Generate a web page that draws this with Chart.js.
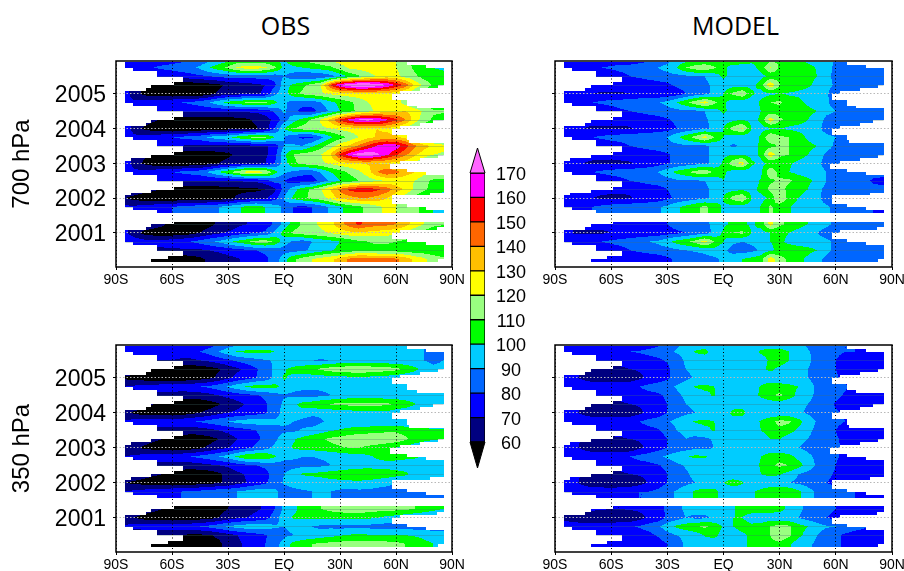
<!DOCTYPE html>
<html>
<head>
<meta charset="utf-8">
<title>OBS and MODEL</title>
<script src="https://cdn.jsdelivr.net/npm/chart.js@4"></script>
<style>
html,body{margin:0;padding:0;background:#fff;}
#page{position:relative;width:904px;height:571px;overflow:hidden;}
canvas{position:absolute;}
.head{position:absolute;top:8px;font:25px "Open Sans",sans-serif;color:#000;text-align:center;}
</style>
</head>
<body>
<div id="page">
<div class="head" style="left:116px;width:339px">OBS</div>
<div class="head" style="left:555px;width:361px">MODEL</div>
</div>
<script>
// latitudes of the grid columns, seasons of the grid rows (2006.0 down to 2000.25)
const lats = [-85,-80,-75,-70,-65,-60,-55,-50,-45,-40,-35,-30,-25,-20,-15,-10,-5,0,5,10,15,20,25,30,35,40,45,50,55,60,65,70,75,80,85];
const seasons = [2006,2005.75,2005.5,2005.25,2005,2004.75,2004.5,2004.25,2004,2003.75,2003.5,2003.25,2003,2002.75,2002.5,2002.25,2002,2001.75,2001.5,2001.25,2001,2000.75,2000.5,2000.25];
const yearTicks = [2001,2002,2003,2004,2005];
const latTicks = [-90,-60,-30,0,30,60,90];
const latNames = ['90S','60S','30S','EQ','30N','60N','90N'];
const levels = [60,70,80,90,100,110,120,130,140,150,160,170];
const levelColors = ['#000000','#000080','#0000ff','#0066ff','#00ccff','#00ff00','#99ff80','#ffff00','#ffc000','#ff6600','#ff0000','#ff00ff','#ff66ff'];

// edge of the data per month, from the top of the plot (null = missing months)
const dataLeft = [-85,-85,-81,-68,-68,-54,-54,-59,-71,-74,-85,-85,-85,-85,-81,-68,-68,-54,-54,-59,-71,-74,-85,-85,-85,-85,-81,-68,-68,-54,-54,-59,-71,-82,-85,-85,-85,-85,-81,-68,-68,-54,-54,-59,-71,-82,-85,-85,-85,-85,-81,-68,null,null,null,-59,-71,-74,-85,-85,-85,-85,-81,-68,-68,-54,-54,-62,-71];
const dataRight = [66,76,85.5,85.5,85.5,85.5,85.5,85.5,82.5,73,62,58,58,66,66,71,85.5,85.5,85.5,85.5,80,73,62,58,58,66,66,67,85.5,85.5,85.5,85.5,82.5,73,62,57,57,66,76,85.5,85.5,85.5,85.5,85.5,85.5,78,58,58,58,66,76,85.5,null,null,null,85.5,85.5,82,62,58,58,66,76,85.5,85.5,85.5,85.5,85.5,82.5];
const seamRows = [2,3,6,7,10,11,14,15,17,19,21,22];

const obs700 = [
[78,76,75,74,74,74,76,79,82,85,90,95,98,98,98,97,96,100,108,112,116,120,124,127,128,130,130,128,125,120,115,105,100,95,95],
[78,78,78,80,82,84,86,88,92,100,106,112,122,125,125,122,112,96,98,100,103,105,108,115,122,124,126,126,124,120,115,108,104,100,98],
[72,72,72,72,72,72,74,76,78,80,82,84,84,84,84,84,84,90,84,80,80,82,86,94,102,108,115,121,124,123,116,112,106,104,104],
[70,66,62,58,55,54,53,53,54,56,58,62,64,66,68,70,78,96,102,108,114,121,150,170,178,184,182,178,170,158,146,128,117,108,102],
[75,64,57,54,53,52,52,52,52,56,62,65,66,67,68,72,88,96,106,112,115,118,122,124,126,127,127,127,126,124,118,110,104,100,98],
[72,72,74,76,78,79,80,82,85,90,97,103,107,111,114,112,103,92,86,84,85,90,97,103,108,113,120,123,125,124,116,108,104,100,98],
[70,70,70,70,70,70,72,72,72,72,72,72,72,72,72,74,82,92,84,76,76,84,92,100,106,113,117,122,125,128,130,126,118,112,112],
[70,68,66,62,58,55,54,53,53,53,54,55,56,58,62,66,72,85,96,104,112,122,134,152,164,172,174,170,162,152,140,125,115,108,104],
[76,66,58,54,53,52,52,52,52,53,54,55,56,57,59,64,80,100,110,114,116,118,120,123,125,127,129,130,128,124,118,110,104,100,98],
[72,72,74,76,78,80,82,84,86,92,96,99,104,110,113,112,100,90,82,78,78,88,98,106,112,120,127,131,133,132,126,115,105,100,98],
[70,70,70,70,70,70,70,68,68,68,68,68,68,68,68,68,74,90,92,90,98,106,116,125,132,142,152,162,168,166,155,142,134,128,124],
[72,68,62,60,56,54,53,53,54,55,56,58,62,64,66,68,76,98,110,114,116,120,130,152,166,176,178,172,162,152,142,132,125,120,118],
[76,66,58,54,53,52,52,52,52,56,60,63,66,68,68,70,80,95,108,113,116,118,122,126,128,130,131,130,128,126,124,118,110,104,100],
[72,72,74,76,78,80,82,84,86,92,100,108,116,124,124,122,104,92,88,84,84,92,100,106,112,118,126,140,148,143,136,130,124,120,118],
[70,70,70,70,70,70,70,70,70,70,70,70,70,72,72,76,84,80,74,74,74,84,92,100,104,110,115,118,121,124,122,120,113,108,108],
[70,68,64,62,58,56,54,54,54,54,55,56,57,58,58,60,68,84,96,106,112,120,131,142,152,156,156,152,146,135,128,118,112,106,102],
[60,56,54,53,52,52,52,52,52,52,53,56,62,64,66,68,76,90,102,108,112,116,124,133,136,139,139,136,130,122,114,106,102,98,96],
[72,72,74,76,78,80,82,84,86,88,90,94,98,103,105,100,94,88,80,78,80,86,92,98,104,108,112,118,122,120,116,112,108,100,96],
null,
[72,70,68,66,62,55,54,53,54,57,62,64,68,70,72,74,82,94,104,112,118,122,127,136,145,152,146,144,143,140,134,126,120,114,112],
[72,64,57,54,53,53,54,56,60,65,68,71,74,77,79,82,92,104,112,115,117,118,121,124,127,128,127,125,124,122,118,112,106,100,96],
[76,76,74,74,74,76,78,80,84,88,92,97,103,108,114,115,108,94,88,86,90,94,97,100,104,108,110,112,112,110,108,105,104,103,102],
[68,68,68,68,68,68,68,68,68,70,72,74,76,78,80,82,85,86,86,88,92,96,99,102,104,106,106,106,105,105,104,103,103,102,102],
[62,60,58,56,54,53,54,55,58,62,64,67,69,72,75,78,84,96,108,114,120,124,128,134,142,147,146,144,143,142,136,128,122,116,112]
];
const model700 = [
[76,74,72,71,71,71,71,72,74,76,80,85,92,94,95,97,98,104,112,110,104,100,104,110,105,98,96,94,92,90,86,84,84,84,84],
[76,76,78,78,80,82,84,84,86,88,90,94,100,110,116,118,112,104,94,94,96,104,121,108,106,110,104,99,93,88,85,84,82,82,82],
[72,72,72,72,72,72,76,80,82,84,85,86,87,88,88,90,94,102,96,93,92,97,102,106,106,105,103,100,93,87,84,83,82,82,82],
[72,72,72,72,72,72,72,72,72,74,76,78,82,84,86,88,92,95,96,96,97,104,129,110,106,104,102,97,92,89,85,84,83,82,82],
[80,73,71,70,69.5,69.5,69.5,70,72,72,72,73,75,80,84,87,92,100,112,119,102,96,98,100,99,98,96,94,91,86,84,84,84,84,84],
[74,76,78,80,82,84,85,86,87,88,89,93,100,108,116,125,113,102,95,93,93,102,110,112,104,103,98,94,91,87,85,84,84,84,84],
[72,72,72,72,72,74,78,80,82,84,85,86,87,88,88,90,95,102,96,94,94,100,104,106,105,104,103,100,92,90,88,85,83,82,82],
[72,72,72,72,72,72,72,72,72,74,76,79,82,85,87,89,92,96,97,100,96,102,126,112,106,104,100,94,88,86,84,83,83,82,82],
[78,72,70,69,69,69,69,69.5,71,72,74,76,80,82,85,88,92,100,114,122,100,96,98,100,98,97,96,92,87,84,83,82,82,82,82],
[74,76,78,80,82,84,85,86,87,88,89,90,98,106,114,124,110,100,96,93,93,102,120,112,110,105,98,94,92,90,86,84,84,84,84],
[72,72,72,72,72,74,76,80,82,84,85,86,87,88,88,88,92,94,88,92,95,102,106,112,110,105,103,100,94,88,84,83,82,82,82],
[72,72,72,72,72,72,72,72,73,74,76,79,82,85,87,88,92,97,100,100,96,102,127,112,110,104,100,95,88,85,84,83,82,82,82],
[78,72,70,69,69,69,69,69.5,71,73,76,79,82,84,86,88,92,102,116,125,102,97,102,104,101,98,96,92,87,84,83,83,82,82,82],
[74,76,78,80,82,84,85,86,87,88,90,96,103,108,114,117,108,102,96,93,94,98,118,106,100,97,96,93,90,86,84,83,83,83,83],
[72,72,72,72,72,74,77,80,82,84,85,86,88,89,89,90,94,100,94,93,95,101,108,112,112,106,102,98,90,85,83,82,82,79,78],
[72,72,72,72,72,71,71,71,72,74,76,80,83,86,87,88,92,95,97,98,96,103,113,116,106,103,100,93,87,84,83,83,82,82,82],
[76,72,71,70,69,69,69,69.5,71,72,74,78,82,84,86,88,92,101,114,120,100,96,102,121,106,100,96,92,87,84,83,83,83,83,83],
[74,76,78,80,82,84,85,86,87,88,89,92,98,103,108,112,106,98,96,96,94,101,112,104,101,96,94,92,91,88,85,84,83,80,78],
null,
[72,72,72,72,72,72,72,72,72,74,76,80,84,86,86,88,92,98,102,102,98,104,124,112,108,104,100,95,92,88,84,84,83,82,80],
[76,69,69,69,69,70,70,71,72,73,74,76,78,80,84,86,92,102,110,112,100,96,100,102,100,96,94,90,86,84,82,82,82,82,82],
[76,78,78,80,80,82,84,86,88,90,92,97,104,108,114,124,110,100,92,90,92,94,100,102,98,96,95,94,92,88,84,83,83,82,82],
[74,74,74,74,74,74,76,80,82,84,85,86,88,90,91,92,96,92,86,85,87,92,98,103,105,104,103,100,92,88,84,83,83,82,80],
[72,72,72,71,71,71,71,71,72,73,75,78,82,84,86,87,88,92,96,100,103,106,126,114,108,103,98,92,88,85,84,83,83,83,83]
];
const obs350 = [
[74,73,72,71,70,70,70,71,72,74,78,82,86,88,90,90,92,96,99,101,102,102,102,102,102,102,102,102,100,98,95,92,90,88,88],
[74,74,74,75,76,76,76,77,80,84,90,96,101,102,103,103,100,95,95,95,95,96,97,96,95,95,94,93,92,92,92,92,90,88,88],
[70,70,70,70,70,70,68,68,70,72,75,78,82,85,87,89,91,92,92,91,90,89,90,92,93,93,93,93,92,92,92,91,90,88,90],
[70,66,62,58,56,54,53,53,54,56,59,64,68,73,79,84,92,99,103,106,108,112,115,117,118,119,118,116,115,113,108,103,96,92,92],
[58,56,54,53,52,52,52,53,55,58,62,68,73,76,80,84,92,101,98,96,95,95,96,96,97,97,97,96,95,93,92,91,90,88,88],
[70,72,74,75,76,76,77,78,80,82,86,91,96,101,104,104,103,97,93,92,92,92,92,93,94,94,94,94,94,94,93,92,91,90,90],
[66,66,66,66,66,66,64,64,65,67,70,73,75,77,79,82,86,89,88,87,86,88,90,92,93,93,93,93,93,93,92,92,92,92,92],
[70,68,64,60,57,55,53,53,54,56,59,63,67,71,75,79,85,92,98,103,106,109,111,112,113,113,113,113,112,109,106,101,94,92,92],
[62,58,55,54,53,53,54,57,60,63,67,70,72,74,76,79,85,94,100,96,93,92,93,94,95,96,97,97,97,94,92,91,90,90,90],
[72,74,75,76,77,77,78,79,81,84,87,90,93,95,95,95,92,92,90,87,85,89,92,93,93,93,92,92,92,92,92,92,91,90,90],
[66,66,66,66,66,66,66,65,65,67,70,73,75,77,80,83,87,88,88,91,93,96,99,101,103,105,106,107,108,108,106,104,103,102,102],
[70,68,65,62,60,57,55,54,55,57,60,65,70,74,78,82,88,95,99,103,106,109,112,114,116,117,117,117,117,116,112,106,103,101,100],
[64,62,58,56,54,53,54,55,58,62,66,70,74,78,82,86,92,97,101,103,104,105,107,109,110,110,108,106,103,100,96,94,92,90,90],
[70,72,74,75,76,77,78,80,83,86,90,94,102,108,110,109,101,94,92,90,90,91,92,93,95,96,98,102,105,104,103,102,98,96,98],
[66,66,66,66,66,66,65,65,66,68,70,72,75,78,80,82,85,85,86,87,87,88,90,92,93,94,95,95,95,95,94,94,94,94,94],
[68,67,65,62,60,57,55,54,54,55,58,64,68,71,74,77,84,90,96,101,102,103,105,106,108,110,109,108,106,104,102,97,93,92,92],
[60,58,56,54,53,53,53,54,55,56,59,62,66,70,74,78,85,91,93,94,94,95,96,97,97,97,96,94,92,90,90,90,90,90,90],
[70,72,74,76,78,79,80,81,83,85,87,88,90,93,95,95,92,86,88,89,90,91,90,88,87,88,88,87,87,87,86,85,84,82,80],
null,
[70,68,66,63,60,56,54,54,54,55,57,60,64,67,69,71,80,92,98,103,106,110,113,115,116,116,115,114,114,113,112,110,106,103,100],
[62,60,56,54,53,53,53,54,55,56,60,65,68,70,72,76,85,96,101,102,102,102,102,102,102,102,102,100,97,95,92,90,90,88,86],
[72,74,76,76,76,76,77,78,80,83,87,91,94,96,97,95,91,90,92,90,90,88,88,87,87,87,87,86,86,86,86,85,85,83,83],
[60,60,60,60,60,60,59,58,58,59,62,66,70,73,76,79,84,88,90,92,93,95,97,99,101,102,101,100,100,100,100,99,98,97,96],
[60,58,56,55,54,54,54,54,55,56,58,63,68,72,76,80,86,94,103,107,110,112,113,114,115,115,115,115,114,113,110,106,102,100,98]
];
const model350 = [
[74,73,72,71,71,71,71,71,71,73,76,83,88,92,93,94,95,96,101,94,92,92,92,92,91,90,88,86,84,82,80,80,80,78,78],
[74,74,75,76,77,78,79,80,81,83,85,88,91,94,101,103,95,94,93,93,94,102,104,104,100,96,91,87,83,81,80,80,79,76,74],
[72,72,72,72,72,72,72,73,75,76,78,81,85,92,94,94,98,93,93,93,93,95,102,106,100,95,92,87,83,80,78,75,73,72,72],
[72,71,70,70,69,69,69,70,71,72,74,78,85,90,92,92,93,93,93,93,94,97,103,97,94,92,90,86,83,80,77,74,73,72,72],
[74,72,68,64,62,61,61,63,68,72,74,78,84,88,91,92,94,98,98,95,93,92,92,92,92,91,90,87,83,81,78,75,74,73,73],
[74,75,76,77,78,78,79,79,80,83,85,88,91,95,101,102,100,96,95,94,95,101,107,105,103,100,94,88,84,82,81,78,76,74,74],
[72,72,72,72,72,72,72,74,76,77,78,82,88,92,94,98,101,94,93,93,95,102,108,112,105,97,93,88,84,82,79,76,74,72,72],
[72,71,70,70,69,69,69,70,71,73,76,80,86,90,92,92,93,93,95,96,94,93,94,94,93,92,90,87,83,79,76,75,74,72,72],
[74,72,68,64,62,61,61,63,68,72,75,80,85,88,90,92,94,95,103,103,94,92,92,92,92,91,89,86,83,81,79,76,74,74,74],
[74,75,76,77,78,78,79,79,80,83,85,89,93,97,101,102,100,95,94,94,95,101,107,113,112,104,95,89,85,82,80,78,76,75,75],
[72,72,72,72,72,72,73,74,76,77,79,83,90,93,94,98,101,94,93,93,94,100,104,108,104,98,92,88,84,80,76,74,73,72,72],
[72,71,70,69,69,69,69,70,71,72,76,80,86,90,88,88,91,93,94,94,94,95,100,100,95,92,90,87,84,81,78,75,74,73,73],
[74,72,68,64,62,61,61,63,68,72,76,80,84,86,88,88,90,94,100,100,94,92,92,92,92,90,88,86,83,81,79,76,74,74,74],
[74,75,76,77,78,78,79,80,83,85,88,92,96,99,102,101,96,94,94,94,95,100,106,106,103,97,92,88,84,81,78,76,75,75,75],
[72,72,72,72,72,72,72,74,76,77,79,83,88,91,93,95,96,95,96,95,96,101,108,112,110,104,96,88,84,80,76,74,73,72,72],
[72,71,70,70,69,69,69,70,71,72,75,80,85,89,92,92,93,94,94,94,94,100,103,101,96,90,87,84,82,79,76,74,73,72,72],
[74,72,68,64,62,61,61,62,66,71,75,80,85,88,90,92,94,100,104,101,94,92,92,92,90,88,86,84,80,78,76,75,74,74,74],
[74,74,75,76,77,77,78,79,80,80,82,87,91,95,102,104,103,95,94,95,98,103,108,110,108,102,94,88,84,83,82,80,76,72,72],
null,
[72,72,72,72,71,70,70,71,72,75,76,82,87,92,94,94,95,95,99,103,104,105,105,104,97,92,88,85,83,80,76,74,73,72,72],
[68,65,63,62,61,61,61,62,66,72,74,82,86,90,88,88,92,94,100,100,96,95,94,92,92,90,86,84,80,77,76,75,74,74,74],
[74,75,75,76,77,77,78,79,81,84,88,96,102,105,108,112,106,99,100,104,102,103,110,114,112,104,100,94,91,90,88,85,82,78,76],
[72,72,72,72,72,72,72,73,75,77,81,86,90,93,95,101,103,96,94,98,102,104,110,116,112,103,96,90,85,82,78,75,74,72,72],
[72,72,72,71,71,71,71,71,72,74,76,80,85,92,93,94,94,95,96,98,102,105,108,108,102,94,92,88,84,82,78,76,74,73,73]
];

const axisTop = 2005.94, axisBottom = 2000.02, firstMonth = 2005.91;

function colorFor(v){
    let i = 0;
    while(i < levels.length && v >= levels[i]) i++;
    return levelColors[i];
}

// value of the read grid at a lat/time position, blended between the neighbouring grid nodes
function fieldAt(grid, lat, t){
    let r = (seasons[0]-t)/0.25, c = (lat-lats[0])/5;
    c = Math.max(0, Math.min(lats.length-1.001, c));
    r = Math.max(0, Math.min(seasons.length-1.001, r));
    const r0 = Math.floor(r), c0 = Math.floor(c), fr = r-r0, fc = c-c0;
    let sum = 0, w = 0;
    const add = (row, col, wt) => {
        if(grid[row] && grid[row][col] != null && wt > 0){ sum += grid[row][col]*wt; w += wt; }
    };
    add(r0, c0, (1-fr)*(1-fc));
    add(r0, c0+1, (1-fr)*fc);
    add(r0+1, c0, fr*(1-fc));
    add(r0+1, c0+1, fr*fc);
    return w > 0 ? sum/w : null;
}

const shadedField = {
    id: 'shadedField',
    beforeDatasetsDraw(chart){
        const ctx = chart.ctx, a = chart.chartArea, xs = chart.scales.x, ys = chart.scales.y;
        const grid = chart.config.options.fieldGrid;
        for(let py = Math.floor(a.top); py < a.bottom; py++){
            const t = ys.getValueForPixel(py+0.5);
            const k = Math.floor((firstMonth-t)*12);
            if(k < 0 || k >= dataLeft.length || dataLeft[k] == null) continue;
            let runStart = -1, runColor = null;
            for(let px = Math.floor(a.left); px <= a.right; px++){
                const lat = xs.getValueForPixel(px+0.5);
                let col = null;
                if(lat >= dataLeft[k] && lat <= dataRight[k]){
                    const v = fieldAt(grid, lat, t);
                    if(v != null) col = colorFor(v);
                }
                if(col !== runColor){
                    if(runColor){ ctx.fillStyle = runColor; ctx.fillRect(runStart, py, px-runStart, 1); }
                    runStart = px; runColor = col;
                }
            }
            if(runColor){ ctx.fillStyle = runColor; ctx.fillRect(runStart, py, Math.ceil(a.right)-runStart, 1); }
        }
        // thin joins the original shows along some of the seasons
        ctx.fillStyle = 'rgba(70,110,110,0.3)';
        seamRows.forEach(r => {
            const t = seasons[r], k = Math.floor((firstMonth-t)*12);
            if(dataLeft[k] == null) return;
            const x0 = xs.getPixelForValue(dataLeft[k]), x1 = xs.getPixelForValue(dataRight[k]);
            ctx.fillRect(x0, Math.round(ys.getPixelForValue(t)), x1-x0, 1);
        });
    },
    afterDraw(chart){
        const ctx = chart.ctx, a = chart.chartArea;
        ctx.save();
        ctx.strokeStyle = '#000';
        ctx.lineWidth = 1.5;
        ctx.strokeRect(a.left, a.top, a.right-a.left, a.bottom-a.top);
        ctx.restore();
    }
};

function addPanel(grid, left, top, right, bottom, showYears, sideLabel){
    const marginLeft = showYears ? left : 20;
    const canvas = document.createElement('canvas');
    canvas.width = marginLeft+(right-left)+22;
    canvas.height = (bottom-top)+4+26;
    canvas.style.left = (left-marginLeft)+'px';
    canvas.style.top = (top-4)+'px';
    document.getElementById('page').appendChild(canvas);
    const points = [];
    seasons.forEach((s, r) => {
        if(grid[r]) lats.forEach((la, c) => points.push({x: la, y: s, v: grid[r][c]}));
    });
    new Chart(canvas, {
        type: 'scatter',
        plugins: [shadedField],
        data: {datasets: [{data: points, pointRadius: 0, showLine: false}]},
        options: {
            fieldGrid: grid,
            responsive: false,
            animation: false,
            events: [],
            layout: {padding: {top: 4, right: 22, left: 0, bottom: 0}},
            plugins: {legend: {display: false}, tooltip: {enabled: false}},
            scales: {
                x: {
                    type: 'linear', min: -90, max: 90,
                    afterFit(s){ s.height = 26; s.paddingLeft = 0; s.paddingRight = 0; },
                    afterBuildTicks(s){ s.ticks = latTicks.map(v => ({value: v})); },
                    ticks: {
                        autoSkip: false, maxRotation: 0, padding: 2, color: '#000',
                        font: {family: '"Liberation Sans"', size: 14},
                        callback: v => latNames[latTicks.indexOf(v)]
                    },
                    border: {display: false, dash: [1, 2.5]},
                    grid: {color: '#000', lineWidth: 1, tickLength: 3, tickColor: '#000', z: 1}
                },
                y: {
                    type: 'linear', min: axisBottom, max: axisTop,
                    afterFit(s){ s.width = marginLeft; s.paddingTop = 0; s.paddingBottom = 0; },
                    afterBuildTicks(s){ s.ticks = yearTicks.map(v => ({value: v})); },
                    title: {
                        display: !!sideLabel, text: sideLabel || '', color: '#000',
                        font: {family: '"Liberation Sans"', size: 24}, padding: {top: 8, bottom: 0}
                    },
                    ticks: {
                        display: showYears, autoSkip: false, padding: 7, labelOffset: 2, color: '#000',
                        font: {family: '"Liberation Sans"', size: 23},
                        callback: v => String(v)
                    },
                    border: {display: false, dash: [1.5, 2]},
                    grid: {color: '#b8b8b8', lineWidth: 1, tickLength: 3, tickColor: '#000', z: 1}
                }
            }
        }
    });
}

addPanel(obs700, 116, 61, 452, 267, true, '700 hPa');
addPanel(model700, 555, 61, 892, 267, false, null);
addPanel(obs350, 116, 345, 452, 552, true, '350 hPa');
addPanel(model350, 555, 345, 892, 552, false, null);

// colour bar
const barCanvas = document.createElement('canvas');
barCanvas.width = 80; barCanvas.height = 340;
barCanvas.style.left = '455px'; barCanvas.style.top = '140px';
document.getElementById('page').appendChild(barCanvas);
new Chart(barCanvas, {
    type: 'bar',
    plugins: [{
        id: 'barTips',
        afterDraw(chart){
            const ctx = chart.ctx, a = chart.chartArea, mid = (a.left+a.right)/2;
            ctx.save();
            ctx.strokeStyle = '#000'; ctx.lineWidth = 1;
            ctx.fillStyle = levelColors[levelColors.length-1];
            ctx.beginPath(); ctx.moveTo(a.left, a.top); ctx.lineTo(mid, a.top-25); ctx.lineTo(a.right, a.top); ctx.closePath(); ctx.fill(); ctx.stroke();
            ctx.fillStyle = levelColors[0];
            ctx.beginPath(); ctx.moveTo(a.left, a.bottom); ctx.lineTo(mid, a.bottom+26); ctx.lineTo(a.right, a.bottom); ctx.closePath(); ctx.fill(); ctx.stroke();
            ctx.restore();
        }
    }],
    data: {
        labels: [''],
        datasets: levels.slice(0, -1).map((lv, i) => ({
            data: [[lv, levels[i+1]]],
            backgroundColor: levelColors[i+1],
            borderColor: '#000', borderWidth: 1, borderSkipped: false,
            barPercentage: 1, categoryPercentage: 1, grouped: false
        }))
    },
    options: {
        responsive: false,
        animation: false,
        events: [],
        layout: {padding: {top: 33, bottom: 38, left: 15, right: 0}},
        plugins: {legend: {display: false}, tooltip: {enabled: false}},
        scales: {
            x: {display: false},
            y: {
                position: 'right', min: 60, max: 170,
                afterFit(s){ s.width = 50; s.paddingTop = 0; s.paddingBottom = 0; },
                afterBuildTicks(s){ s.ticks = levels.map(v => ({value: v})); },
                border: {display: false},
                grid: {display: false},
                ticks: {
                    autoSkip: false, crossAlign: 'center', labelOffset: 2, color: '#000',
                    font: {family: '"Liberation Sans"', size: 18}
                }
            }
        }
    }
});
</script>
</body>
</html>
